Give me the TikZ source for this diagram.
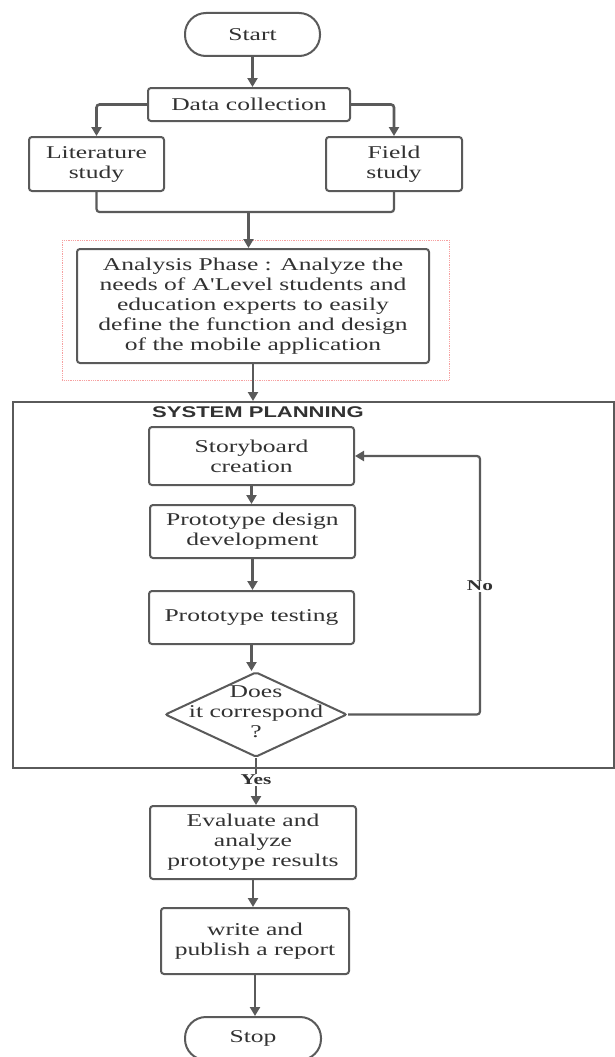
\documentclass[tikz,border=0pt]{standalone}
\usepackage{fontspec}
\setmainfont{Liberation Serif}[FakeStretch=1.42,Ligatures=TeXOff]
\setsansfont{Liberation Sans}[FakeStretch=1.42]
\usetikzlibrary{arrows.meta,shapes.geometric}
\definecolor{linec}{RGB}{90,90,90}
\definecolor{textc}{RGB}{50,50,50}
\definecolor{dashc}{RGB}{246,160,160}
\tikzset{
  box/.style={draw=linec,line width=2pt,rounded corners=3pt,align=center,
    text=textc,inner sep=0pt,font=\fontsize{18}{20}\selectfont},
  term/.style={box,rounded corners=21pt},
  arr/.style={draw=linec,line width=2.6pt,-{Triangle[length=9pt,width=10pt]}},
  conn/.style={draw=linec,line width=2.2pt},
  lbl/.style={font=\fontsize{15}{17}\selectfont\bfseries,text=textc,fill=white,inner sep=1.5pt},
}
\begin{document}
\begin{tikzpicture}[x=1pt,y=-1pt]
\useasboundingbox (0,0) rectangle (615,1057);
\fill[white] (0,0) rectangle (615,1057);
% dashed highlight
\draw[dashc,line width=0.8pt,densely dotted] (62,240) rectangle (449,380);
% nodes
\node[term,minimum width=135pt,minimum height=43pt] (start) at (252.5,34.5) {Start};
\node[box,minimum width=202pt,minimum height=33pt] (dc) at (249,104.5) {Data collection};
\node[box,minimum width=135pt,minimum height=54pt] (lit) at (96.5,164) {Literature\\study};
\node[box,minimum width=136pt,minimum height=54pt] (field) at (394,164) {Field\\study};
\node[box,minimum width=352pt,minimum height=114pt] (ana) at (253,306)
  {Analysis Phase : Analyze the\\needs of A'Level students and\\education experts to easily\\define the function and design\\of the mobile application};
\node[draw=linec,line width=2pt,minimum width=601.5pt,minimum height=366pt,inner sep=0pt] (sp) at (313.25,585) {};
\node[text=textc,font=\fontsize{15.5}{17}\selectfont\sffamily\bfseries,inner sep=0pt] (sptitle) at (258,412) {SYSTEM PLANNING};
\node[box,minimum width=205pt,minimum height=58pt] (story) at (251.5,456) {Storyboard\\creation};
\node[box,minimum width=205pt,minimum height=53pt] (pdd) at (252.5,531.5) {Prototype design\\development};
\node[box,minimum width=205pt,minimum height=53pt] (pt) at (251.5,617.5) {Prototype testing};
\node[diamond,draw=linec,line width=2pt,minimum width=182pt,minimum height=85pt,inner sep=0pt,rounded corners=2pt] (dia) at (256,714.5) {};
\node[align=center,text=textc,font=\fontsize{18}{20}\selectfont,inner sep=0pt] (diatext) at (256,712) {Does\\it correspond\\?};
\node[box,minimum width=206pt,minimum height=73pt] (eval) at (253,842.5) {Evaluate and\\analyze\\prototype results};
\node[box,minimum width=188pt,minimum height=66pt] (write) at (255,941) {write and\\publish a report};
\node[term,minimum width=136pt,minimum height=43pt] (stop) at (253,1038.5) {Stop};
% connectors
\draw[arr] (start.south) -- (start.south |- dc.north);
\draw[arr,rounded corners=3pt] (dc.west) -| (lit.north);
\draw[arr,rounded corners=3pt] (dc.east) -| (field.north);
\coordinate (join) at (248.5,212);
\draw[conn,rounded corners=3pt] (lit.south) -- (lit.south |- join) -- (field.south |- join) -- (field.south);
\draw[arr] (join) -- (join |- ana.north);
\draw[arr] (ana.south) -- (ana.south |- sp.north);
\draw[arr] (story.south) -- (story.south |- pdd.north);
\draw[arr] (pdd.south) -- (pdd.south |- pt.north);
\draw[arr] (pt.south) -- (pt.south |- dia.north);
\coordinate (nx) at (480,600);
\draw[arr,line width=2.2pt,rounded corners=3pt] (dia.east) -| (nx) |- (story.east);
\node[lbl] (no) at (480,586) {No};
\draw[arr] (dia.south) -- (dia.south |- eval.north);
\node[lbl] (yes) at (256,780) {Yes};
\draw[arr] (eval.south) -- (eval.south |- write.north);
\draw[arr] (write.south) -- (write.south |- stop.north);
\end{tikzpicture}
\end{document}
